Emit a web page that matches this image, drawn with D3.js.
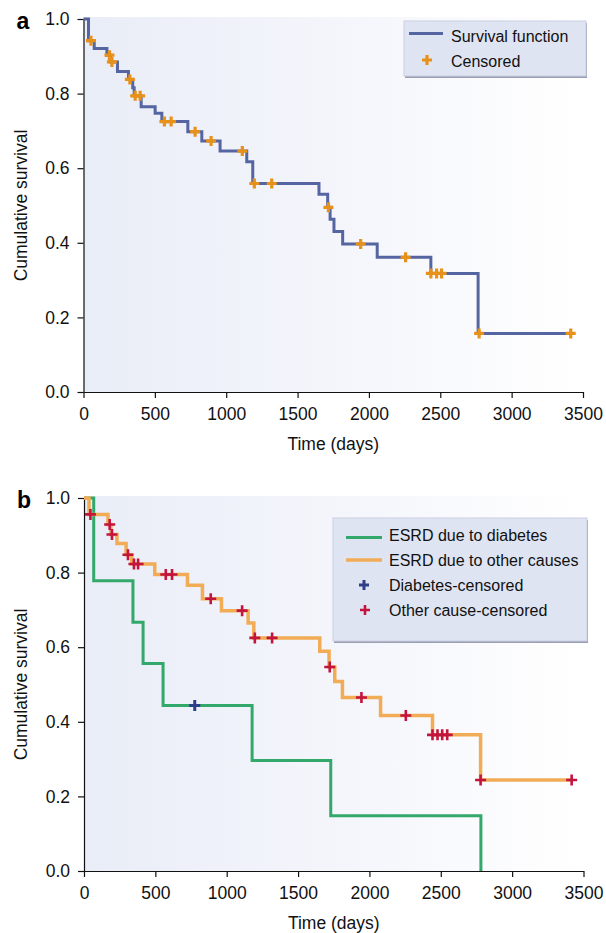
<!DOCTYPE html>
<html>

<head>
	<meta charset="utf-8">
	<title>Cumulative survival</title>
	<style type="text/css">
		body {
			margin: 0;
			background: white;
			font-family: 'Liberation Sans', Arial, sans-serif;
		}

		.axis text {
			font-size: 17.5px;
			fill: #111;
		}

		.axis path,
		.axis line {
			stroke: #111;
			stroke-width: 1.2;
		}

		.label {
			font-size: 17.5px;
			fill: #111;
		}

		.legend text {
			font-size: 16px;
			fill: #111;
		}
	</style>
	<script src="https://cdn.jsdelivr.net/npm/d3@7"></script>
</head>

<body>
	<script>

		// axis ticks
		var time_ticks = [0, 500, 1000, 1500, 2000, 2500, 3000, 3500];
		var surv_ticks = [0.0, 0.2, 0.4, 0.6, 0.8, 1.0];

		// panel a : all patients
		var all_times = [0, 35, 75, 164, 190, 238, 315, 345, 355, 404, 502, 549, 731, 829, 957, 1144, 1186, 1650, 1711, 1728, 1755, 1816, 2058, 2434, 2765, 3414];
		var all_surv = [1.0, 0.942, 0.921, 0.903, 0.885, 0.859, 0.838, 0.816, 0.794, 0.765, 0.747, 0.725, 0.698, 0.673, 0.646, 0.617, 0.559, 0.530, 0.495, 0.463, 0.430, 0.397, 0.361, 0.318, 0.157, 0.157];
		var all_cens_times = [52, 182, 199, 325, 362, 397, 567, 614, 782, 894, 1113, 1197, 1319, 1716, 1942, 2257, 2434, 2474, 2509, 2772, 3414];
		var all_cens_surv = [0.942, 0.903, 0.885, 0.838, 0.794, 0.794, 0.725, 0.725, 0.698, 0.673, 0.646, 0.559, 0.559, 0.495, 0.397, 0.361, 0.318, 0.318, 0.318, 0.157, 0.157];

		// panel b : ESRD due to diabetes
		var diab_times = [0, 68, 343, 414, 554, 1178, 1729, 2781];
		var diab_surv = [1.0, 0.778, 0.667, 0.556, 0.444, 0.296, 0.148, 0.0];
		var diab_cens_times = [776];
		var diab_cens_surv = [0.444];

		// panel b : ESRD due to other causes
		var other_times = [0, 35, 168, 188, 231, 295, 335, 496, 725, 830, 963, 1150, 1190, 1652, 1717, 1757, 1811, 2078, 2442, 2779, 3417];
		var other_surv = [1.0, 0.956, 0.929, 0.902, 0.878, 0.848, 0.823, 0.795, 0.766, 0.730, 0.698, 0.665, 0.625, 0.589, 0.547, 0.508, 0.465, 0.417, 0.365, 0.244, 0.244];
		var other_cens_times = [45, 180, 196, 308, 350, 379, 573, 617, 888, 1108, 1197, 1318, 1722, 1944, 2255, 2442, 2477, 2510, 2545, 2779, 3417];
		var other_cens_surv = [0.956, 0.929, 0.902, 0.848, 0.823, 0.823, 0.795, 0.795, 0.730, 0.698, 0.625, 0.625, 0.547, 0.465, 0.417, 0.365, 0.365, 0.365, 0.365, 0.244, 0.244];

		var width = 499.5, height = 373;

		var svg = d3.select("body").append("svg")
			.attr("width", 606)
			.attr("height", 933);

		var defs = svg.append("defs");
		var grad = defs.append("linearGradient")
			.attr("id", "bg")
			.attr("x1", "0%").attr("x2", "100%")
			.attr("y1", "0%").attr("y2", "0%");
		grad.append("stop").attr("offset", "0%").attr("stop-color", "#e9edf7");
		grad.append("stop").attr("offset", "60%").attr("stop-color", "#f6f7fc");
		grad.append("stop").attr("offset", "100%").attr("stop-color", "#ffffff");

		var x = d3.scaleLinear().domain([0, 3500]).range([0, width]);
		var y = d3.scaleLinear().domain([0, 1]).range([height, 0]);

		var step = d3.line()
			.curve(d3.curveStepAfter)
			.x(function (d) { return x(d[0]); })
			.y(function (d) { return y(d[1]); });

		function zip(a, b) {
			return a.map(function (v, i) { return [v, b[i]]; });
		}

		function plus(size) {
			var h = size / 2;
			return "M" + (-h) + ",0H" + h + "M0," + (-h) + "V" + h;
		}

		function panel(left, top, letter) {
			var g = svg.append("g")
				.attr("transform", "translate(" + left + "," + top + ")");

			g.append("rect")
				.attr("x", 0)
				.attr("y", -2)
				.attr("width", width)
				.attr("height", height + 2)
				.attr("fill", "url(#bg)");

			g.append("g")
				.attr("class", "axis")
				.attr("transform", "translate(0," + height + ")")
				.call(d3.axisBottom(x).tickValues(time_ticks).tickFormat(d3.format("d")).tickSize(6).tickSizeOuter(0).tickPadding(10));

			g.append("g")
				.attr("class", "axis")
				.call(d3.axisLeft(y).tickValues(surv_ticks).tickFormat(d3.format(".1f")).tickSize(6).tickSizeOuter(0).tickPadding(8));

			g.append("text")
				.attr("class", "label")
				.attr("text-anchor", "middle")
				.attr("x", width / 2)
				.attr("y", height + 58)
				.text("Time (days)");

			g.append("text")
				.attr("class", "label")
				.attr("text-anchor", "middle")
				.attr("transform", "rotate(-90)")
				.attr("x", -height / 2)
				.attr("y", -57)
				.text("Cumulative survival");

			g.append("text")
				.attr("x", -67)
				.attr("y", 10)
				.style("font-size", "23px")
				.style("font-weight", "bold")
				.text(letter);

			return g;
		}

		function curve(g, times, surv, color, w) {
			g.append("path")
				.datum(zip(times, surv))
				.attr("fill", "none")
				.attr("stroke", color)
				.attr("stroke-width", w)
				.attr("d", step);
		}

		function censored(g, times, surv, color, size, w) {
			g.selectAll(null)
				.data(zip(times, surv))
				.enter()
				.append("path")
				.attr("transform", function (d) { return "translate(" + x(d[0]) + "," + y(d[1]) + ")"; })
				.attr("d", plus(size))
				.attr("fill", "none")
				.attr("stroke", color)
				.attr("stroke-width", w);
		}

		function legendBox(x0, y0, w, h) {
			var lg = svg.append("g").attr("class", "legend");
			lg.append("rect")
				.attr("x", x0 + 1).attr("y", y0 + 2)
				.attr("width", w).attr("height", h)
				.attr("fill", "#9a9fb3");
			lg.append("rect")
				.attr("x", x0).attr("y", y0)
				.attr("width", w).attr("height", h)
				.attr("fill", "#dfe4f2")
				.attr("stroke", "#c9d0e2")
				.attr("stroke-width", 1);
			return lg;
		}

		// ---- panel a ----
		var ga = panel(83.5, 19, "a");
		curve(ga, all_times, all_surv, "#5565a1", 3);
		censored(ga, all_cens_times, all_cens_surv, "#e8911a", 10, 3.2);

		var la = legendBox(404, 21, 182, 55);
		la.append("line")
			.attr("x1", 409).attr("x2", 443)
			.attr("y1", 33.5).attr("y2", 33.5)
			.attr("stroke", "#5565a1").attr("stroke-width", 3);
		la.append("path")
			.attr("transform", "translate(427,60)")
			.attr("d", plus(10))
			.attr("stroke", "#e8911a").attr("stroke-width", 3.2);
		la.append("text").attr("x", 451).attr("y", 42).text("Survival function");
		la.append("text").attr("x", 451).attr("y", 66.5).text("Censored");

		// ---- panel b ----
		var gb = panel(84, 498, "b");
		curve(gb, diab_times, diab_surv, "#32a96b", 3);
		curve(gb, other_times, other_surv, "#f1ac55", 3.5);
		censored(gb, other_cens_times, other_cens_surv, "#c3143e", 11, 2.6);
		censored(gb, diab_cens_times, diab_cens_surv, "#2d3f86", 11, 3);

		var lb = legendBox(333, 518, 254, 123);
		lb.append("line")
			.attr("x1", 346).attr("x2", 382)
			.attr("y1", 537.5).attr("y2", 537.5)
			.attr("stroke", "#32a96b").attr("stroke-width", 3);
		lb.append("line")
			.attr("x1", 346).attr("x2", 382)
			.attr("y1", 560).attr("y2", 560)
			.attr("stroke", "#f1ac55").attr("stroke-width", 3.5);
		lb.append("path")
			.attr("transform", "translate(364,585)")
			.attr("d", plus(10))
			.attr("stroke", "#2d3f86").attr("stroke-width", 3);
		lb.append("path")
			.attr("transform", "translate(365,610)")
			.attr("d", plus(10))
			.attr("stroke", "#c3143e").attr("stroke-width", 2.6);
		lb.append("text").attr("x", 389).attr("y", 541).text("ESRD due to diabetes");
		lb.append("text").attr("x", 389).attr("y", 566).text("ESRD due to other causes");
		lb.append("text").attr("x", 389).attr("y", 591).text("Diabetes-censored");
		lb.append("text").attr("x", 389).attr("y", 616).text("Other cause-censored");

	</script>
</body>

</html>
